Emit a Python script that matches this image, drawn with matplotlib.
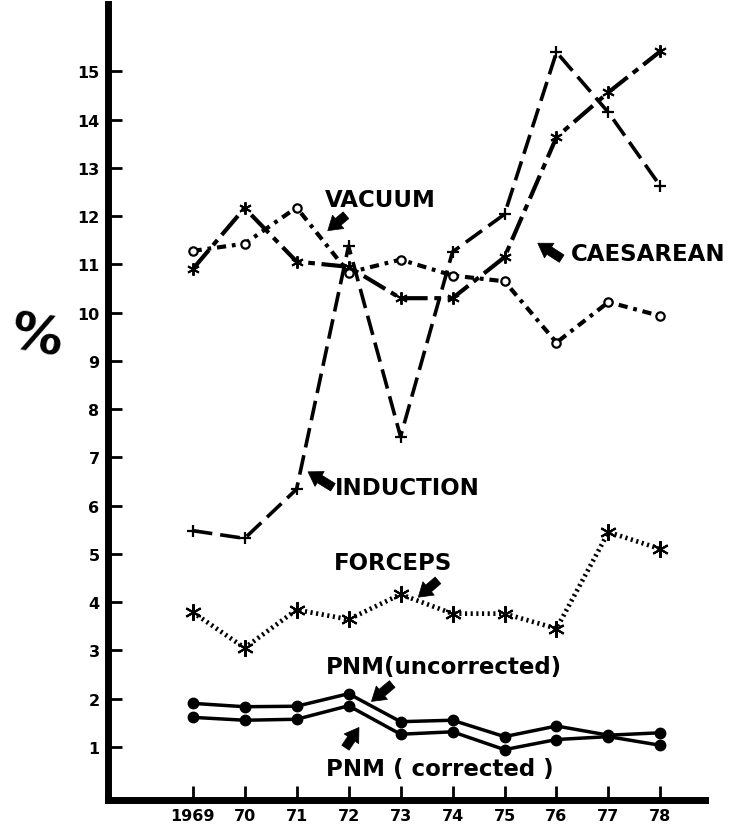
import numpy as np
import matplotlib.pyplot as plt

# years 1969-78
years = np.arange(1969, 1979)
year_labels = ['1969', '70', '71', '72', '73', '74', '75', '76', '77', '78']

# rates in %
induction = [5.48, 5.32, 6.34, 11.38, 7.43, 11.26, 12.04, 15.4, 14.15, 12.62]
caesarean = [10.9, 12.17, 11.06, 10.95, 10.3, 10.3, 11.15, 13.64, 14.57, 15.42]
vacuum = [11.28, 11.43, 12.18, 10.83, 11.1, 10.77, 10.65, 9.38, 10.22, 9.93]
forceps = [3.79, 3.05, 3.84, 3.64, 4.16, 3.76, 3.76, 3.45, 5.45, 5.1]
pnm_uncorr = [1.90, 1.83, 1.84, 2.10, 1.52, 1.55, 1.21, 1.43, 1.24, 1.29]
pnm_corr = [1.61, 1.55, 1.57, 1.85, 1.26, 1.31, 0.94, 1.15, 1.21, 1.03]

plt.rcParams['font.family'] = ['DejaVu Sans']
plt.rcParams['font.weight'] = 'bold'

fig = plt.figure(figsize=(7.34, 8.29), dpi=100)
ax = fig.add_axes([0.147, 0.034, 0.813, 0.960])

asterisk = (6, 2, 0)

# series
ax.plot(years, induction, color='black', lw=2.6, dashes=(5.5, 2.2),
        marker='+', ms=9, mew=1.6)
ax.plot(years, caesarean, color='black', lw=3.0, dashes=(6, 1.6, 1.6, 1.6),
        marker=asterisk, ms=9, mew=1.4)
ax.plot(years, vacuum, color='black', lw=3.0, dashes=(2.2, 1.4, 0.9, 1.4),
        marker='o', ms=6, mfc='white', mec='black', mew=1.6)
ax.plot(years, forceps, color='black', lw=3.4, dashes=(0.45, 0.75),
        marker=asterisk, ms=12, mew=1.5)
ax.plot(years, pnm_uncorr, color='black', lw=2.5, marker='o', ms=7.5)
ax.plot(years, pnm_corr, color='black', lw=2.5, marker='o', ms=7.5)

# labels with arrows
txt = dict(fontsize=16.5, fontweight='bold', va='center', ha='left')
arrow = dict(arrowstyle='simple,head_length=0.7,head_width=0.9,tail_width=0.45',
             color='black', lw=0.5, mutation_scale=14,
             shrinkA=0, shrinkB=0)

ax.text(1971.54, 12.34, 'VACUUM', **txt)
ax.annotate('', xy=(1971.6, 11.7), xytext=(1971.95, 12.02), arrowprops=arrow)

ax.text(1976.27, 11.23, 'CAESAREAN', **txt)
ax.annotate('', xy=(1975.64, 11.44), xytext=(1976.1, 11.12), arrowprops=arrow)

ax.text(1971.74, 6.37, 'INDUCTION', **txt)
ax.annotate('', xy=(1971.22, 6.7), xytext=(1971.7, 6.38), arrowprops=arrow)

ax.text(1971.72, 4.82, 'FORCEPS', **txt)
ax.annotate('', xy=(1973.34, 4.1), xytext=(1973.72, 4.45), arrowprops=arrow)

ax.text(1971.56, 2.66, 'PNM(uncorrected)', **txt)
ax.annotate('', xy=(1972.44, 1.94), xytext=(1972.84, 2.3), arrowprops=arrow)

ax.text(1971.56, 0.54, 'PNM ( corrected )', **txt)
ax.annotate('', xy=(1972.2, 1.4), xytext=(1971.94, 0.98), arrowprops=arrow)

# axes
ax.set_xlim(1967.37, 1978.85)
ax.set_ylim(-0.1, 16.4)
ax.set_xticks(years)
ax.set_xticklabels(year_labels)
ax.set_yticks(range(1, 16))
ax.tick_params(axis='both', direction='in', length=10, width=2,
               labelsize=11.5, pad=6)
for lab in ax.get_xticklabels() + ax.get_yticklabels():
    lab.set_fontweight('bold')

for side in ['top', 'right']:
    ax.spines[side].set_visible(False)
ax.spines['left'].set_linewidth(5)
ax.spines['bottom'].set_linewidth(5)

fig.text(36 / 734, 1 - 338 / 829, '%', fontsize=37, fontweight='bold',
         ha='center', va='center', rotation=-10)

fig.savefig('out.png', dpi=100)
